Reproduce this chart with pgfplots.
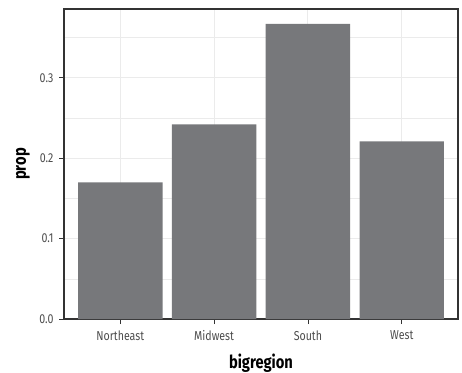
\documentclass[border=0pt]{standalone}
\usepackage{fontspec}
\setmainfont[FakeStretch=0.82]{Fira Sans}
\usepackage{pgfplots}
\pgfplotsset{compat=1.18}
\definecolor{barfill}{HTML}{77787B}
\definecolor{gridc}{HTML}{EBEBEB}
\definecolor{gray30}{HTML}{4D4D4D}
\definecolor{gray20}{HTML}{333333}
\begin{document}
\begin{tikzpicture}[x=1bp,y=1bp]
\path[use as bounding box] (0,0) rectangle (462,372);
\begin{axis}[
  at={(64bp,53bp)}, anchor=south west,
  scale only axis, width=394bp, height=310bp,
  xmin=0.4, xmax=4.6, ymin=0, ymax=0.3856,
  xtick={1,2,3,4}, xticklabels={Northeast,Midwest,South,West},
  ytick={0,0.1,0.2,0.3}, yticklabels={0.0,0.1,0.2,0.3},
  minor ytick={0.05,0.15,0.25,0.35},
  grid=both,
  major grid style={gridc, line width=1bp},
  minor grid style={gridc, line width=0.5bp},
  axis line style={gray20, line width=1.1bp},
  major tick style={gray20, line width=0.8bp},
  minor tick length=0pt,
  major tick length=5bp, tick align=outside, tick pos=left,
  ticklabel style={font=\fontsize{13}{15}\selectfont, text=gray30},
  yticklabel style={xshift=-2bp},
  xticklabel style={yshift=-3bp},
  xlabel={bigregion}, ylabel={prop},
  label style={font=\bfseries\fontsize{18}{21}\selectfont},
  xlabel style={at={(axis description cs:0.5,0)}, anchor=base, yshift=-49bp},
  ylabel style={at={(axis description cs:-0.104,0.5)}, anchor=center},
  ybar, bar width=0.9, bar shift=0pt,
]
\addplot[fill=barfill, draw=none] coordinates {(1,0.170) (2,0.242) (3,0.367) (4,0.221)};
\end{axis}
\end{tikzpicture}
\end{document}
